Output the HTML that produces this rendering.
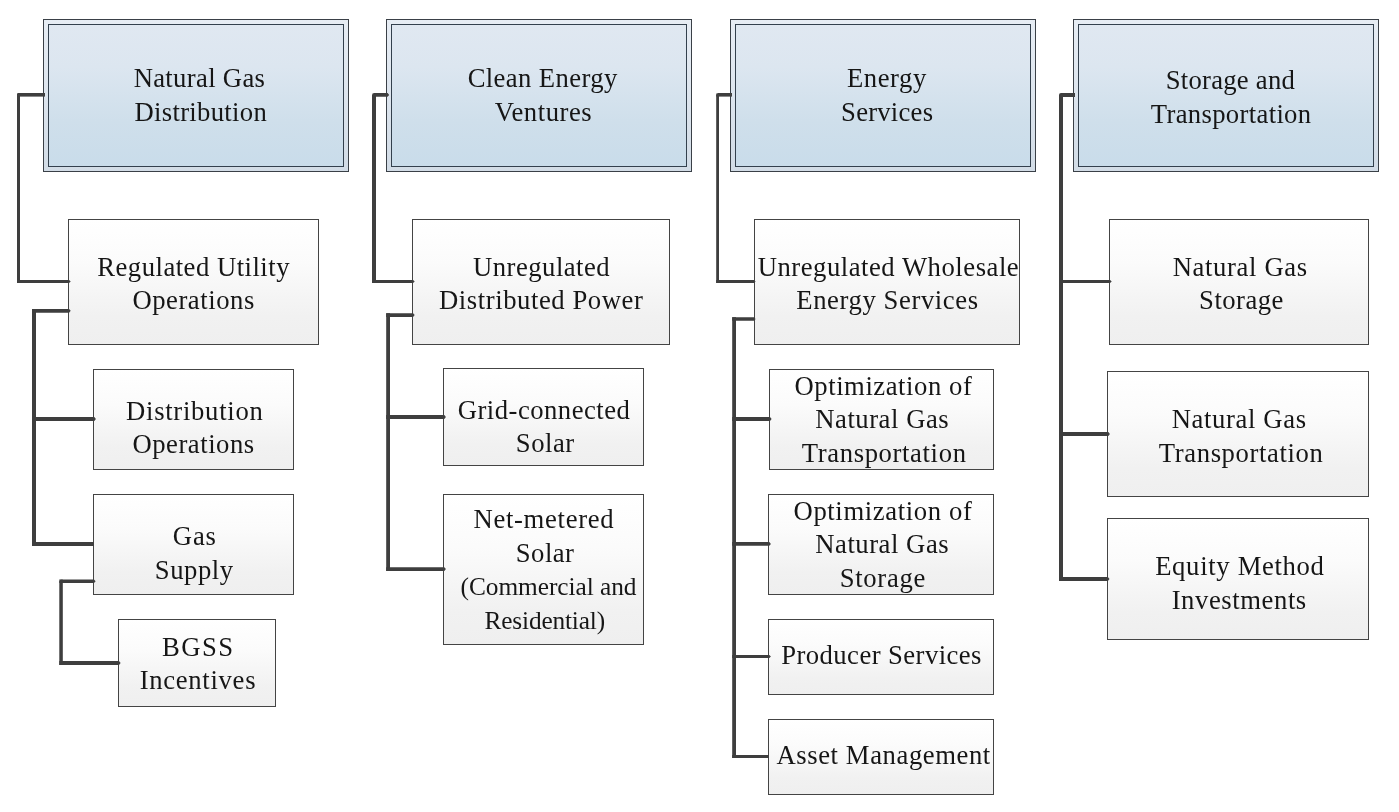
<!DOCTYPE html>
<html lang="en">
<head>
<meta charset="utf-8">
<title>Business segments</title>
<style>
html,body{margin:0;padding:0;background:#fff;}
body{width:1399px;height:812px;position:relative;overflow:hidden;font-family:"Liberation Serif",serif;}
.hd{position:absolute;box-sizing:border-box;border:1px solid #3a4047;background:linear-gradient(to bottom,#e7edf4 0%,#dde5ee 50%,#d2dce6 100%);}
.hd i{position:absolute;left:4px;top:4px;right:4px;bottom:4px;border:1px solid #33404d;
  background:linear-gradient(to bottom,#e0e8f1 0%,#dce6f0 30%,#cfdfeb 68%,#c9dcea 100%);}
.bx{position:absolute;box-sizing:border-box;border:1px solid #444;
  background:linear-gradient(to bottom,#ffffff 0%,#fbfbfb 35%,#f1f1f1 78%,#efefef 100%);}
.t{position:absolute;white-space:nowrap;color:#161616;font-size:26.67px;line-height:34px;height:34px;}
svg{position:absolute;left:0;top:0;}
#tx{position:absolute;left:0;top:0;width:1399px;height:812px;will-change:transform;}
</style>
</head>
<body>
<div class="hd" style="left:43px;top:19px;width:306px;height:153px"><i></i></div>
<div class="hd" style="left:386px;top:19px;width:306px;height:153px"><i></i></div>
<div class="hd" style="left:730px;top:19px;width:306px;height:153px"><i></i></div>
<div class="hd" style="left:1073px;top:19px;width:306px;height:153px"><i></i></div>
<div class="bx" style="left:68px;top:219px;width:251px;height:126px"></div>
<div class="bx" style="left:93px;top:369px;width:201px;height:101px"></div>
<div class="bx" style="left:93px;top:494px;width:201px;height:101px"></div>
<div class="bx" style="left:118px;top:619px;width:158px;height:88px"></div>
<div class="bx" style="left:412px;top:219px;width:258px;height:126px"></div>
<div class="bx" style="left:443px;top:368px;width:201px;height:98px"></div>
<div class="bx" style="left:443px;top:494px;width:201px;height:151px"></div>
<div class="bx" style="left:754px;top:219px;width:266px;height:126px"></div>
<div class="bx" style="left:769px;top:369px;width:225px;height:101px"></div>
<div class="bx" style="left:768px;top:494px;width:226px;height:101px"></div>
<div class="bx" style="left:768px;top:619px;width:226px;height:76px"></div>
<div class="bx" style="left:768px;top:719px;width:226px;height:76px"></div>
<div class="bx" style="left:1109px;top:219px;width:260px;height:126px"></div>
<div class="bx" style="left:1107px;top:371px;width:262px;height:126px"></div>
<div class="bx" style="left:1107px;top:518px;width:262px;height:122px"></div>
<svg width="1399" height="812" viewBox="0 0 1399 812">
<g fill="#3e3e3e">
<rect x="17" y="93" width="3" height="190"/>
<rect x="32" y="309" width="4" height="237"/>
<rect x="59.3" y="579.6" width="3.5" height="85.4"/>
<rect x="372" y="93" width="4" height="190"/>
<rect x="386.2" y="313.2" width="3.8" height="257.8"/>
<rect x="716.2" y="93" width="2.8" height="190"/>
<rect x="732.2" y="317.2" width="3.8" height="440.8"/>
<rect x="1059" y="93" width="4" height="488"/>
<rect x="17" y="93" width="28" height="3.6"/>
<path d="M17 280H69.1L70.7 281.5L69.1 283H17Z"/>
<path d="M32 309H69.1L70.7 310.85L69.1 312.7H32Z"/>
<path d="M32 417H94.3L95.9 419L94.3 421H32Z"/>
<rect x="32" y="542" width="62" height="4"/>
<path d="M59.3 579.6H94L95.6 581.25L94 582.9H59.3Z"/>
<path d="M59.3 661H119L120.6 663L119 665H59.3Z"/>
<path d="M372 93H387.6L389.2 94.9L387.6 96.8H372Z"/>
<path d="M372 280H413.1L414.7 281.5L413.1 283H372Z"/>
<path d="M386.2 313.2H413.1L414.7 315.1L413.1 317H386.2Z"/>
<path d="M386.2 415H444.3L445.9 417L444.3 419H386.2Z"/>
<path d="M386.2 567.2H444.3L445.9 569.1L444.3 571H386.2Z"/>
<rect x="716.2" y="93" width="15.8" height="3.6"/>
<path d="M716.2 280H754L755.6 281.5L754 283H716.2Z"/>
<path d="M732.2 317.2H754L755.6 318.95L754 320.7H732.2Z"/>
<path d="M732.2 417H770L771.6 419L770 421H732.2Z"/>
<path d="M732.2 542H769.3L770.9 543.9L769.3 545.8H732.2Z"/>
<path d="M732.2 655H769.3L770.9 656.5L769.3 658H732.2Z"/>
<rect x="732.2" y="755" width="36.8" height="3"/>
<rect x="1059" y="93" width="16" height="4"/>
<path d="M1059 280H1110.1L1111.7 281.5L1110.1 283H1059Z"/>
<path d="M1059 432H1108.3L1109.9 434L1108.3 436H1059Z"/>
<path d="M1059 577H1107.9L1109.5 579L1107.9 581H1059Z"/>
</g>
<g fill="#fff">
<path d="M17 93h1.2a1.2 1.2 0 0 0 -1.2 1.2z"/>
<path d="M372 93h2.2a2.2 2.2 0 0 0 -2.2 2.2z"/>
<path d="M716.2 93h2a2 2 0 0 0 -2 2z"/>
<path d="M1059 93h2a2 2 0 0 0 -2 2z"/>
<path d="M59.3 579.6h1.6a1.6 1.6 0 0 0 -1.6 1.6z"/>
</g>
</svg>
<div id="tx">
<div class="t" style="left:133.64px;top:61.00px;letter-spacing:0.331px">Natural Gas</div>
<div class="t" style="left:134.52px;top:95.00px;letter-spacing:0.307px">Distribution</div>
<div class="t" style="left:97.28px;top:250.00px;letter-spacing:0.492px">Regulated Utility</div>
<div class="t" style="left:132.39px;top:283.00px;letter-spacing:0.551px">Operations</div>
<div class="t" style="left:126.06px;top:394.00px;letter-spacing:0.716px">Distribution</div>
<div class="t" style="left:132.38px;top:427.00px;letter-spacing:0.545px">Operations</div>
<div class="t" style="left:172.77px;top:519.00px;letter-spacing:0.887px">Gas</div>
<div class="t" style="left:154.81px;top:553.00px;letter-spacing:0.537px">Supply</div>
<div class="t" style="left:162.07px;top:630.00px;letter-spacing:1.456px">BGSS</div>
<div class="t" style="left:139.66px;top:663.00px;letter-spacing:0.702px">Incentives</div>
<div class="t" style="left:467.67px;top:61.00px;letter-spacing:0.388px">Clean Energy</div>
<div class="t" style="left:494.70px;top:95.00px;letter-spacing:0.521px">Ventures</div>
<div class="t" style="left:473.07px;top:250.00px;letter-spacing:0.481px">Unregulated</div>
<div class="t" style="left:439.05px;top:283.00px;letter-spacing:0.568px">Distributed Power</div>
<div class="t" style="left:457.66px;top:393.00px;letter-spacing:0.497px">Grid-connected</div>
<div class="t" style="left:515.81px;top:426.00px;letter-spacing:0.534px">Solar</div>
<div class="t" style="left:473.45px;top:502.00px;letter-spacing:0.694px">Net-metered</div>
<div class="t" style="left:515.80px;top:536.00px;letter-spacing:0.469px">Solar</div>
<div class="t" style="left:460.57px;top:569.45px;font-size:25.33px;letter-spacing:-0.042px">(Commercial and</div>
<div class="t" style="left:484.49px;top:603.45px;font-size:25.33px;letter-spacing:-0.159px">Residential)</div>
<div class="t" style="left:847.02px;top:61.00px;letter-spacing:0.548px">Energy</div>
<div class="t" style="left:841.09px;top:95.00px;letter-spacing:0.232px">Services</div>
<div class="t" style="left:757.63px;top:250.00px;letter-spacing:0.531px">Unregulated Wholesale</div>
<div class="t" style="left:796.25px;top:283.00px;letter-spacing:0.595px">Energy Services</div>
<div class="t" style="left:794.51px;top:369.00px;letter-spacing:0.554px">Optimization of</div>
<div class="t" style="left:815.25px;top:402.00px;letter-spacing:0.536px">Natural Gas</div>
<div class="t" style="left:801.73px;top:436.00px;letter-spacing:0.634px">Transportation</div>
<div class="t" style="left:793.50px;top:494.00px;letter-spacing:0.625px">Optimization of</div>
<div class="t" style="left:815.24px;top:527.00px;letter-spacing:0.537px">Natural Gas</div>
<div class="t" style="left:839.79px;top:561.00px;letter-spacing:0.667px">Storage</div>
<div class="t" style="left:781.21px;top:638.00px;letter-spacing:0.443px">Producer Services</div>
<div class="t" style="left:776.45px;top:738.00px;letter-spacing:0.586px">Asset Management</div>
<div class="t" style="left:1165.69px;top:63.00px;letter-spacing:0.254px">Storage and</div>
<div class="t" style="left:1150.79px;top:97.00px;letter-spacing:0.333px">Transportation</div>
<div class="t" style="left:1172.70px;top:250.00px;letter-spacing:0.649px">Natural Gas</div>
<div class="t" style="left:1199.09px;top:283.00px;letter-spacing:0.485px">Storage</div>
<div class="t" style="left:1171.69px;top:402.00px;letter-spacing:0.632px">Natural Gas</div>
<div class="t" style="left:1158.82px;top:436.00px;letter-spacing:0.609px">Transportation</div>
<div class="t" style="left:1155.16px;top:549.00px;letter-spacing:0.677px">Equity Method</div>
<div class="t" style="left:1171.65px;top:583.00px;letter-spacing:0.578px">Investments</div>
</div>
</body>
</html>
